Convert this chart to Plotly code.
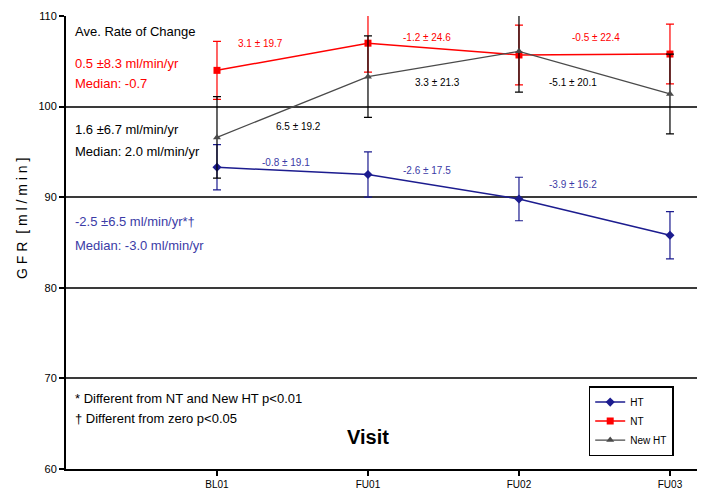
import plotly.graph_objects as go

visits = ["BL01", "FU01", "FU02", "FU03"]
x_idx = [0, 1, 2, 3]

ht_vals = [93.3, 92.5, 89.8, 85.8]
ht_err = [2.5, 2.5, 2.4, 2.6]
nt_vals = [104.0, 107.0, 105.7, 105.8]
nt_err = [3.2, 3.2, 3.3, 3.3]
newht_vals = [96.6, 103.3, 106.1, 101.4]
newht_err = [4.5, 4.5, 4.5, 4.4]

seg_labels_nt = ["3.1 ± 19.7", "-1.2 ± 24.6", "-0.5 ± 22.4"]
seg_labels_newht = ["6.5 ± 19.2", "3.3 ± 21.3", "-5.1 ± 20.1"]
seg_labels_ht = ["-0.8 ± 19.1", "-2.6 ± 17.5", "-3.9 ± 16.2"]

BLUE = "#1c1c8f"
BLUE_TXT = "#3b3ba6"
RED = "#ff0000"
GRAY = "#4a4a4a"
FONT = "Liberation Sans, Arial, sans-serif"

fig = go.Figure()

fig.add_trace(go.Scatter(
    x=x_idx, y=ht_vals, name="HT", mode="lines+markers",
    line=dict(color=BLUE, width=1.5),
    marker=dict(symbol="diamond", size=7, color=BLUE),
    error_y=dict(type="data", array=ht_err, color=BLUE, thickness=1.2, width=4),
))
fig.add_trace(go.Scatter(
    x=x_idx, y=nt_vals, name="NT", mode="lines+markers",
    line=dict(color=RED, width=1.5),
    marker=dict(symbol="square", size=7, color=RED),
    error_y=dict(type="data", array=nt_err, color=RED, thickness=1.2, width=4),
))
fig.add_trace(go.Scatter(
    x=x_idx, y=newht_vals, name="New HT", mode="lines+markers",
    line=dict(color=GRAY, width=1.2),
    marker=dict(symbol="triangle-up", size=7, color=GRAY),
    error_y=dict(type="data", array=newht_err, color="#000000", thickness=1.2, width=4),
))

annots = []

def add(text, x, y, color="#000000", size=13, xanchor="left", bold=False):
    annots.append(dict(
        text=("<b>%s</b>" % text) if bold else text, x=x, y=y, xref="x", yref="y",
        showarrow=False, xanchor=xanchor, yanchor="middle",
        font=dict(color=color, size=size, family=FONT),
    ))

# left-side text block
add("Ave. Rate of Change", -0.955, 108.3)
add("0.5 ±8.3 ml/min/yr", -0.955, 104.8, RED)
add("Median: -0.7", -0.955, 102.5, RED)
add("1.6 ±6.7 ml/min/yr", -0.955, 97.5)
add("Median: 2.0 ml/min/yr", -0.955, 95.0)
add("-2.5 ±6.5 ml/min/yr*†", -0.955, 87.3, BLUE_TXT)
add("Median: -3.0 ml/min/yr", -0.955, 84.7, BLUE_TXT)
add("* Different from NT and New HT p<0.01", -0.955, 67.8)
add("† Different from zero p<0.05", -0.955, 65.6)
add("Visit", 1.0, 63.5, size=20, xanchor="center", bold=True)

# segment labels
for t, xx, yy in zip(seg_labels_nt, [0.29, 1.39, 2.51], [107.0, 107.6, 107.6]):
    add(t, xx, yy, RED, size=10, xanchor="center")
for t, xx, yy in zip(seg_labels_newht, [0.54, 1.46, 2.36], [97.75, 102.7, 102.7]):
    add(t, xx, yy, "#000000", size=10, xanchor="center")
for t, xx, yy in zip(seg_labels_ht, [0.46, 1.39, 2.36], [93.8, 93.0, 91.35]):
    add(t, xx, yy, BLUE_TXT, size=10, xanchor="center")

# y-axis title
annots.append(dict(
    text="G F R  [ m l / m i n ]", x=-0.069, y=0.554, xref="paper", yref="paper",
    showarrow=False, textangle=-90, xanchor="center", yanchor="middle",
    font=dict(size=14, color="#000000", family=FONT),
))

fig.update_layout(
    width=697, height=485,
    margin=dict(l=58, r=0, t=8, b=24),
    paper_bgcolor="white", plot_bgcolor="white",
    font=dict(family=FONT, color="#000000", size=11),
    showlegend=True,
    legend=dict(
        x=0.818, y=0.183, xanchor="left", yanchor="top",
        bordercolor="#000000", borderwidth=1.5, bgcolor="white",
        font=dict(size=10, family=FONT), itemwidth=30,
        tracegroupgap=2,
    ),
    annotations=annots,
)

fig.update_xaxes(
    range=[-1, 3.232], tickvals=x_idx, ticktext=visits,
    showgrid=False, zeroline=False,
    showline=True, linecolor="#000000", linewidth=2,
    ticks="outside", ticklen=5, tickcolor="#000000", tickwidth=1.5,
    tickfont=dict(size=10, family=FONT),
)
fig.update_yaxes(
    range=[60, 110], tickvals=[60, 70, 80, 90, 100, 110],
    showgrid=True, gridcolor="#3a3a3a", gridwidth=1.5, zeroline=False,
    showline=True, linecolor="#000000", linewidth=2,
    ticks="outside", ticklen=5, tickcolor="#000000", tickwidth=1.5,
    tickfont=dict(size=11, family=FONT),
)

fig.write_html("out.html")
